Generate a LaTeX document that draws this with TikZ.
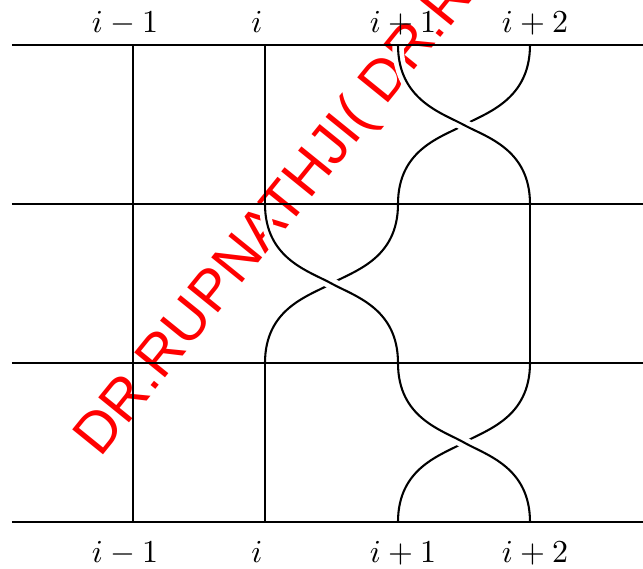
\documentclass[tikz,border=0pt]{standalone}
\usepackage{amsmath}
\usepackage{fontspec}
\newfontfamily\markfont{Liberation Sans}
\usetikzlibrary{positioning}

\tikzset{
    strand/.style={line width=0.65pt},
    rung/.style={line width=0.7pt},
    over/.style={strand, preaction={draw, white, line width=3.6pt}},
    lab/.style={anchor=base, inner sep=0pt}
}

\begin{document}
\begin{tikzpicture}[x=0.3125pt, y=-0.3125pt]

\useasboundingbox (0,0) rectangle (643,569);
\clip (0,0) rectangle (643,569);

% watermark
\node[anchor=base west, rotate=51, inner sep=0pt, text=red,
      font=\markfont\fontsize{18}{18}\selectfont] (mark) at (100,459)
      {DR.RUPNATHJI( DR.RUPNATHJI(};

% labels top and bottom
\node[lab] (t1) at (125,32) {$i-1$};
\node[lab] (t2) at (257,32) {$i$};
\node[lab] (t3) at (403,32) {$i+1$};
\node[lab] (t4) at (535,32) {$i+2$};
\node[lab] (b1) at (125,562) {$i-1$};
\node[lab] (b2) at (257,562) {$i$};
\node[lab] (b3) at (403,562) {$i+1$};
\node[lab] (b4) at (535,562) {$i+2$};

% straight strands
\draw[strand] (133,45) -- (133,522);
\draw[strand] (265,45) -- (265,204);
\draw[strand] (265,363) -- (265,522);
\draw[strand] (530,204) -- (530,363);

% sigma_{i+1} on top
\draw[strand] (530,45) .. controls (530,100) and (486,113) .. (464,125)
    .. controls (442,137) and (398,149) .. (398,204);
\draw[over] (398,45) .. controls (398,100) and (442,113) .. (464,125)
    .. controls (486,137) and (530,149) .. (530,204);

% sigma_i in the middle
\draw[strand] (398,204) .. controls (398,259) and (354,271) .. (331.5,283.5)
    .. controls (309,296) and (265,308) .. (265,363);
\draw[over] (265,204) .. controls (265,259) and (309,271) .. (331.5,283.5)
    .. controls (354,296) and (398,308) .. (398,363);

% sigma_{i+1} at the bottom
\draw[strand] (530,363) .. controls (530,418) and (486,430) .. (464,442.5)
    .. controls (442,455) and (398,467) .. (398,522);
\draw[over] (398,363) .. controls (398,418) and (442,430) .. (464,442.5)
    .. controls (486,455) and (530,467) .. (530,522);

% horizontal levels
\foreach \y in {45,204,363,522}
    \draw[rung] (12,\y) -- (643,\y);

\end{tikzpicture}
\end{document}
